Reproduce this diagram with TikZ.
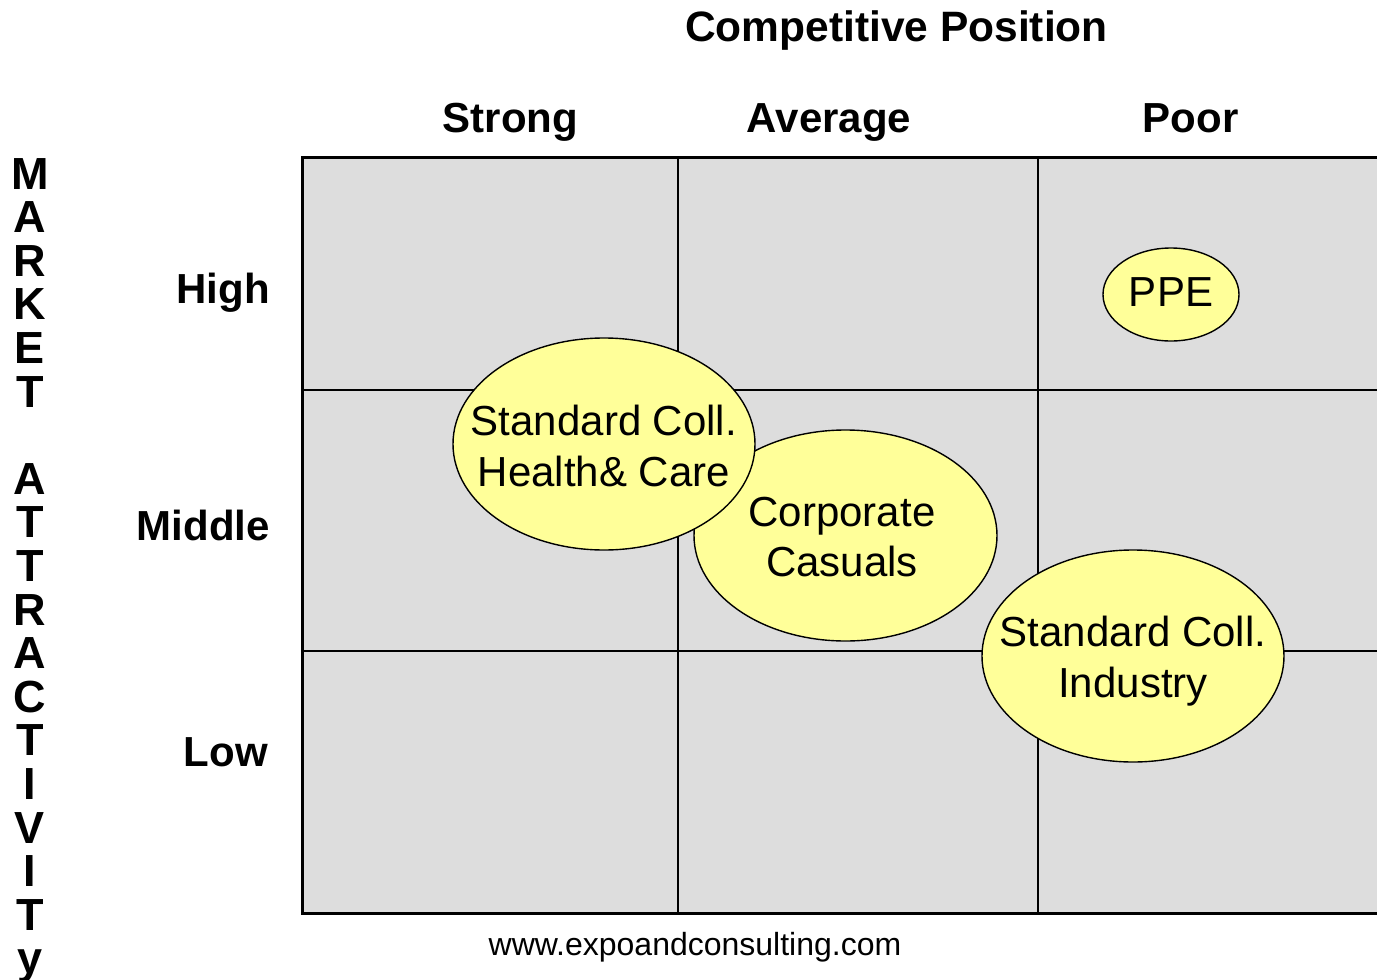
\documentclass[tikz,border=0pt]{standalone}
\usepackage{fontspec}
\setmainfont{Liberation Sans}
\usetikzlibrary{shapes.geometric}
\definecolor{cellgray}{HTML}{DDDDDD}
\definecolor{blobyellow}{HTML}{FFFF99}
\begin{document}
\begin{tikzpicture}[x=1pt,y=-1pt,
  heading/.style={font=\fontsize{42}{50}\selectfont\bfseries, anchor=base, inner sep=0},
  rowlabel/.style={heading, anchor=base east},
  axisletter/.style={font=\fontsize{45}{45}\selectfont\bfseries, anchor=base, inner sep=0},
  blob/.style={ellipse, draw=black, line width=1.4pt, fill=blobyellow, inner sep=0},
  tag/.style={font=\fontsize{42}{50.5}\selectfont, align=center, inner sep=0},
  gridline/.style={line width=2pt},
  gridframe/.style={line width=3pt},
]
\useasboundingbox (0,0) rectangle (1377,980);

% the 3x3 portfolio grid (open to the right)
\begin{scope}
  \clip (0,0) rectangle (1377,980);
  \fill[cellgray] (302,157) rectangle (1390,913);
  \draw[gridline] (678,157) -- (678,913) (1038,157) -- (1038,913)
                  (302,390) -- (1390,390) (302,651) -- (1390,651);
  \draw[gridframe] (1390,157) -- (302,157) -- (302,913) -- (1390,913);
\end{scope}

% axis headings
\node[heading, font=\fontsize{42.5}{50}\selectfont\bfseries] (title) at (896.5,41) {Competitive Position};
\node[heading] (strong) at (510.5,132) {Strong};
\node[heading] (average) at (829,132) {Average};
\node[heading] (poor) at (1190.5,132) {Poor};
\node[rowlabel] (high) at (270,303) {High};
\node[rowlabel] (middle) at (270,540) {Middle};
\node[rowlabel] (low) at (268,766) {Low};

% vertical axis title, one letter per line
\foreach \ch [count=\i from 0] in {M,A,R,K,E,T,{},A,T,T,R,A,C,T,I,V,I,T,y}
  \node[axisletter] (v\i) at (30,189+43.6*\i) {\ch};

% business units
\node[blob, minimum width=303pt, minimum height=211pt] (corp) at (845.5,535.5) {};
\node[tag] (corpt) at (842,537) {Corporate\\Casuals};
\node[blob, minimum width=302pt, minimum height=212pt] (hc) at (604,444) {};
\node[tag] (hct) at (604,446) {Standard Coll.\\Health\& Care};
\node[blob, minimum width=302pt, minimum height=212pt] (ind) at (1133,656) {};
\node[tag] (indt) at (1133,661) {Standard Coll.\\Industry};
\node[blob, minimum width=136pt, minimum height=93pt] (ppe) at (1171,294.5) {};
\node[tag] (ppet) at (1171,292) {PPE};

% footer
\node[anchor=base, inner sep=0, font=\fontsize{32}{36}\selectfont] (url) at (695,955) {www.expoandconsulting.com};
\end{tikzpicture}
\end{document}
